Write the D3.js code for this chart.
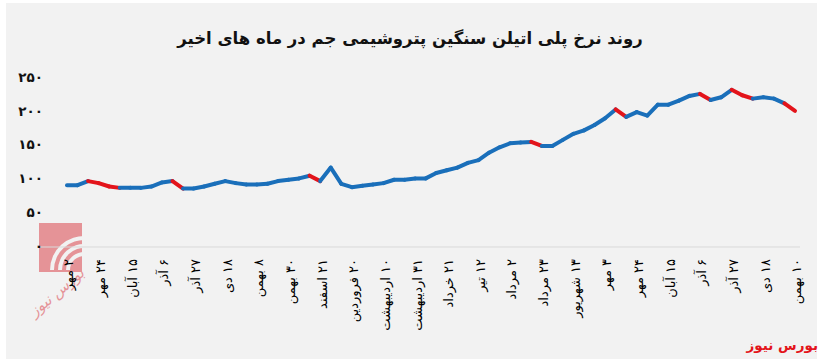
<!DOCTYPE html>
<html>
<head>
<meta charset="utf-8">
<script src="https://cdn.jsdelivr.net/npm/d3@7"></script>
<style>
  body { margin: 0; background: #fff; }
  svg text { font-family: "DejaVu Sans", sans-serif; }
</style>
</head>
<body>
<div id="chart"></div>
<script>
// weekly price of HDPE (Jam petrochemical)
let prices = [90, 90, 96, 93, 88, 86, 86, 86, 88, 94,
              96, 85, 85, 88, 92, 96, 93, 91, 91, 92,
              96, 98, 100, 104, 96, 116, 92, 87, 89, 91,
              93, 98, 98, 100, 100, 108, 112, 116, 123, 127,
              138, 146, 152, 153, 154, 148, 148, 157, 166, 171,
              179, 189, 202, 191, 198, 193, 209, 209, 215, 222,
              225, 216, 220, 231, 223, 218, 220, 218, 211, 200];

// segments (start index) drawn in red
let redSegments = [2, 3, 4, 10, 23, 44, 52, 60, 63, 64, 68];

// one label every third week
let dateLabels = ["۲ مهر", "۲۴ مهر", "۱۵ آبان", "۶ آذر", "۲۷ آذر", "۱۸ دی",
                  "۸ بهمن", "۳۰ بهمن", "۲۱ اسفند", "۲۰ فروردین", "۱۰ اردیبهشت",
                  "۳۱ اردیبهشت", "۲۱ خرداد", "۱۲ تیر", "۲ مرداد", "۲۳ مرداد",
                  "۱۳ شهریور", "۳ مهر", "۲۴ مهر", "۱۵ آبان", "۶ آذر", "۲۷ آذر",
                  "۱۸ دی", "۱۰ بهمن"];
let yTicks = [0, 50, 100, 150, 200, 250];

let title = "روند نرخ پلی اتیلن سنگین پتروشیمی جم در ماه های اخیر";

let faDigits = s => String(s).replace(/\d/g, d => "۰۱۲۳۴۵۶۷۸۹"[d]);

let width = 822, height = 359;

let svg = d3.select("#chart").append("svg")
    .attr("width", width)
    .attr("height", height);

// panel background
svg.append("rect")
    .attr("x", 6).attr("y", 3)
    .attr("width", 811).attr("height", 356)
    .attr("fill", "#f2f2f2");

// title
svg.append("text")
    .attr("x", 410).attr("y", 38)
    .attr("dy", "0.35em")
    .attr("text-anchor", "middle")
    .attr("font-size", 16.5)
    .attr("font-weight", "bold")
    .attr("fill", "#111")
    .text(title);

// scales
let x = d3.scaleLinear()
    .domain([0, prices.length - 1])
    .range([67, 795]);

let y = d3.scaleLinear()
    .domain([0, 250])
    .range([246, 77]);

// watermark logo (behind everything else)
let logo = svg.append("g").attr("opacity", 0.5);
logo.append("rect")
    .attr("x", 39).attr("y", 223)
    .attr("width", 43).attr("height", 49)
    .attr("fill", "#d9363e");
[14, 22, 30].forEach(r => {
    logo.append("path")
        .attr("d", d3.arc()({innerRadius: r, outerRadius: r + 4, startAngle: -Math.PI * 0.5, endAngle: 0.1}))
        .attr("transform", "translate(84,270)")
        .attr("fill", "#f2f2f2");
});
logo.append("text")
    .attr("transform", "translate(60,296) rotate(-40)")
    .attr("text-anchor", "middle")
    .attr("direction", "rtl")
    .attr("font-size", 15)
    .attr("font-style", "italic")
    .attr("fill", "#d9363e")
    .text("بورس نیوز");

// baseline
svg.append("line")
    .attr("x1", 40).attr("x2", 800)
    .attr("y1", y(0) + 1).attr("y2", y(0) + 1)
    .attr("stroke", "#d9d9d9")
    .attr("stroke-width", 1);

// y axis
let yAxis = d3.axisLeft(y)
    .tickValues(yTicks)
    .tickSize(0)
    .tickPadding(0)
    .tickFormat(faDigits);

svg.append("g")
    .attr("class", "y-axis")
    .attr("transform", "translate(43,0)")
    .call(yAxis)
    .call(g => g.select(".domain").remove())
    .selectAll("text")
    .attr("font-family", "DejaVu Sans")
    .attr("font-size", 13.5)
    .attr("font-weight", "bold")
    .attr("fill", "#111");

// x axis labels, rotated
let labelIdx = dateLabels.map((d, i) => i * 3);
let xAxis = d3.axisBottom(x)
    .tickValues(labelIdx)
    .tickSize(0)
    .tickFormat((d, i) => dateLabels[i]);

svg.append("g")
    .attr("class", "x-axis")
    .attr("transform", "translate(0," + (y(0) + 13) + ")")
    .call(xAxis)
    .call(g => g.select(".domain").remove())
    .selectAll("text")
    .attr("font-family", "DejaVu Sans")
    .attr("font-size", 13)
    .attr("fill", "#000")
    .attr("direction", "rtl")
    .attr("text-anchor", "start")
    .attr("y", 0)
    .attr("dy", "0.45em")
    .attr("transform", "rotate(-90)");

// line, one segment per week so drops can be coloured
let segs = d3.pairs(prices.map((v, i) => ({i: i, v: v})));
svg.append("g")
    .selectAll("line")
    .data(segs)
    .join("line")
    .attr("x1", d => x(d[0].i))
    .attr("y1", d => y(d[0].v))
    .attr("x2", d => x(d[1].i))
    .attr("y2", d => y(d[1].v))
    .attr("stroke", d => redSegments.includes(d[0].i) ? "#e3141b" : "#1a6fba")
    .attr("stroke-width", 4)
    .attr("stroke-linecap", "round");

// source
svg.append("text")
    .attr("x", 818).attr("y", 350)
    .attr("text-anchor", "start")
    .attr("direction", "rtl")
    .attr("font-size", 13.5)
    .attr("font-weight", "bold")
    .attr("fill", "#e3141b")
    .text("بورس نیوز");
</script>
</body>
</html>
